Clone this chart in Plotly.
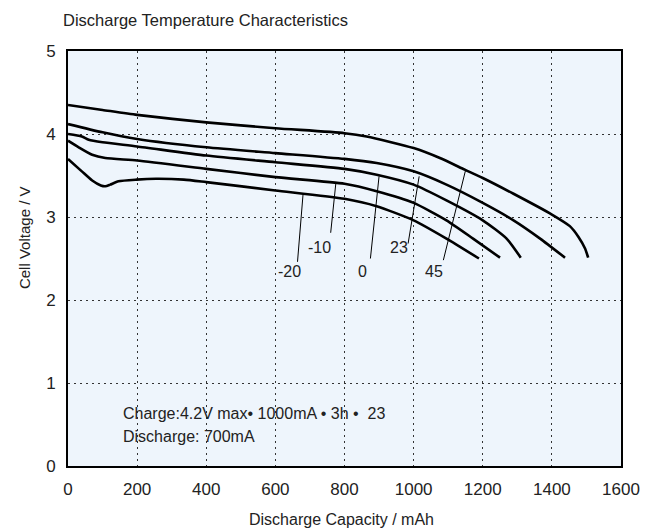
import plotly.graph_objects as go

# discharge curves, capacity in mAh and cell voltage in V
temps = ["45", "23", "0", "-10", "-20"]

cap_45 = [0, 100, 200, 400, 600, 800, 864, 1000, 1076, 1148, 1200, 1289, 1400, 1452, 1477, 1496, 1505]
volt_45 = [4.35, 4.29, 4.23, 4.14, 4.07, 4.01, 3.97, 3.83, 3.71, 3.57, 3.47, 3.28, 3.03, 2.89, 2.76, 2.62, 2.51]

cap_23 = [0, 100, 200, 400, 600, 800, 893, 1000, 1095, 1200, 1289, 1366, 1438]
volt_23 = [4.12, 4.02, 3.94, 3.84, 3.77, 3.70, 3.65, 3.55, 3.39, 3.17, 2.96, 2.74, 2.51]

cap_0 = [0, 40, 60, 100, 200, 400, 600, 800, 893, 1000, 1095, 1200, 1269, 1310]
volt_0 = [4.00, 3.97, 3.93, 3.90, 3.85, 3.74, 3.66, 3.58, 3.51, 3.39, 3.20, 2.96, 2.74, 2.51]

cap_m10 = [0, 31, 70, 108, 200, 400, 600, 800, 893, 1000, 1095, 1172, 1250]
volt_m10 = [3.92, 3.84, 3.75, 3.71, 3.68, 3.58, 3.48, 3.40, 3.31, 3.17, 2.96, 2.74, 2.51]

cap_m20 = [0, 40, 70, 95, 108, 122, 146, 198, 255, 335, 400, 600, 800, 893, 1000, 1095, 1189]
volt_m20 = [3.70, 3.55, 3.44, 3.38, 3.37, 3.39, 3.43, 3.45, 3.46, 3.45, 3.42, 3.32, 3.22, 3.13, 2.96, 2.74, 2.50]

curves = [(cap_45, volt_45), (cap_23, volt_23), (cap_0, volt_0), (cap_m10, volt_m10), (cap_m20, volt_m20)]

# temperature labels: text anchor and leader line (bottom -> top on curve)
label_x = [1060, 957, 852, 729, 642]
label_y = [2.34, 2.63, 2.34, 2.63, 2.34]
leader_x0 = [1086, 984, 875, 760, 664]
leader_y0 = [2.48, 2.68, 2.50, 2.81, 2.46]
leader_x1 = [1150, 1016, 900, 775, 680]
leader_y1 = [3.56, 3.49, 3.49, 3.41, 3.27]

FONT = "Liberation Sans, Arial, sans-serif"
TXT = "#222"

# the page body adds an 8px margin, so the figure is 8px smaller and shifted
W, H = 644, 522

fig = go.Figure()
for (cx, cy), t in zip(curves, temps):
    fig.add_trace(go.Scatter(
        x=cx, y=cy, mode="lines", name=t,
        line=dict(color="black", width=2.6, shape="spline", smoothing=0.6),
        hoverinfo="skip",
    ))

for i, t in enumerate(temps):
    fig.add_shape(type="line", x0=leader_x0[i], y0=leader_y0[i],
                  x1=leader_x1[i], y1=leader_y1[i],
                  line=dict(color="black", width=1))
    fig.add_annotation(x=label_x[i], y=label_y[i], text=t, showarrow=False,
                       font=dict(size=16, color=TXT))

fig.add_annotation(x=152, y=0.635, xanchor="left", text="Charge:4.2V max\u2022 1000mA \u2022 3h \u2022  23",
                   showarrow=False, font=dict(size=16, color=TXT))
fig.add_annotation(x=152, y=0.353, xanchor="left", text="Discharge: 700mA",
                   showarrow=False, font=dict(size=16, color=TXT))

# axis titles placed by paper coordinates
fig.add_annotation(xref="paper", yref="paper", x=-0.079, y=0.55, xanchor="center", yanchor="middle",
                   text="Cell Voltage / V", textangle=-90, showarrow=False,
                   font=dict(size=15, color=TXT))
fig.add_annotation(xref="paper", yref="paper", x=0.495, y=-0.13, xanchor="center", yanchor="middle",
                   text="Discharge Capacity / mAh", showarrow=False,
                   font=dict(size=16, color=TXT))

fig.update_layout(
    width=W, height=H,
    margin=dict(l=60, r=31, t=43, b=64),
    paper_bgcolor="white",
    plot_bgcolor="#eef5fc",
    showlegend=False,
    font=dict(family=FONT, size=17, color=TXT),
    title=dict(text="Discharge Temperature Characteristics", x=55 / W, xanchor="left",
               y=1 - 12 / H, yanchor="middle", font=dict(size=16.5, color=TXT)),
)
fig.update_xaxes(
    range=[0, 1600], tickvals=[0, 200, 400, 600, 800, 1000, 1200, 1400, 1600],
    showline=True, linecolor="black", linewidth=2, mirror=True,
    showgrid=True, gridcolor="#333", gridwidth=1, griddash="2px,4px",
    zeroline=False, ticks="", ticklabelstandoff=7,
)
fig.update_yaxes(
    range=[0, 5], tickvals=[0, 1, 2, 3, 4, 5],
    showline=True, linecolor="black", linewidth=2, mirror=True,
    showgrid=True, gridcolor="#333", gridwidth=1, griddash="2px,4px",
    zeroline=False, ticks="", ticklabelstandoff=7,
)

fig.write_html("out.html")
